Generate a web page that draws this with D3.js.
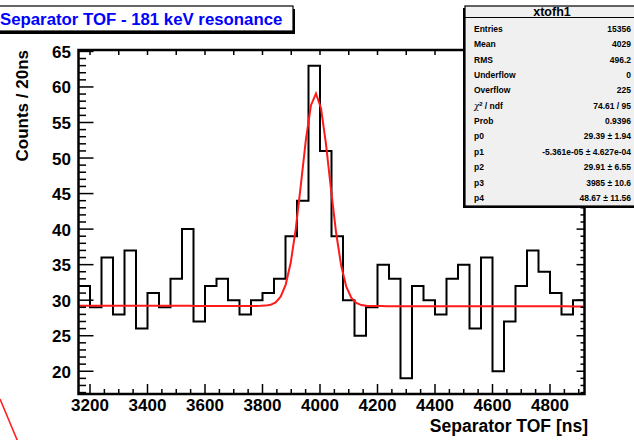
<!DOCTYPE html>
<html>
<head>
<meta charset="utf-8">
<script src="https://cdn.jsdelivr.net/npm/d3@7"></script>
<style>
  html, body { margin: 0; padding: 0; background: #fff; }
  svg { display: block; font-family: "Liberation Sans", Arial, Helvetica, sans-serif; }
</style>
</head>
<body>
<svg id="chart" width="634" height="440"></svg>
<script>
// ---- data ----
const binEdgesStart = 3160;      // first bin low edge (ns)
const binWidth = 40;             // ns
const binCounts = [32, 29, 36, 28, 37, 26, 31, 29, 33, 40, 27, 32, 33, 30, 28, 30, 31, 33, 39, 44, 63, 51,
                   39, 30, 25, 29, 35, 33, 19, 32, 30, 28, 33, 35, 26, 36, 20, 27, 32, 37, 34, 31, 28, 30];
const xDomain = [3160, 4920];
const yDomain = [16.8, 65.2];
const xTickLabels = [3200, 3400, 3600, 3800, 4000, 4200, 4400, 4600, 4800];
const yTickLabels = [20, 25, 30, 35, 40, 45, 50, 55, 60, 65];
const fitParams = [29.39, -5.361e-05, 29.91, 3985, 48.67];   // p0 + p1*x + p2*gaus(p3,p4)
const fitRange = [3162, 4915];
const statLabels = ["Entries", "Mean", "RMS", "Underflow", "Overflow", "CHI", "Prob", "p0", "p1", "p2", "p3", "p4"];
const statValues = ["15356", "4029", "496.2", "0", "225", "74.61 / 95", "0.9396",
                    "29.39 \u00b1 1.94", "-5.361e-05 \u00b1 4.627e-04", "29.91 \u00b1 6.55",
                    "3985 \u00b1 10.6", "48.67 \u00b1 11.56"];
const titleText = "Separator TOF - 181 keV resonance";
const statTitle = "xtofh1";
const xTitle = "Separator TOF [ns]";
const yTitle = "Counts / 20ns";

// ---- layout ----
const svg = d3.select("#chart");
const L = 78.5, R = 584.5, T = 50, B = 394;
const x = d3.scaleLinear().domain(xDomain).range([L, R]);
const y = d3.scaleLinear().domain(yDomain).range([B, T]);
const FONT = '"Liberation Sans", Arial, Helvetica, sans-serif';

// stray red line at bottom-left
svg.append("line").attr("x1", 0).attr("y1", 399).attr("x2", 18).attr("y2", 442)
  .attr("stroke", "#ff2020").attr("stroke-width", 1.6);

// histogram step path
const bins = binCounts.map((c, i) => ({x0: binEdgesStart + i * binWidth, x1: binEdgesStart + (i + 1) * binWidth, c}));
let p = d3.path();
bins.forEach((b, i) => {
  if (i === 0) p.moveTo(x(b.x0), y(b.c)); else p.lineTo(x(b.x0), y(b.c));
  p.lineTo(x(b.x1), y(b.c));
});
svg.append("path").attr("d", p.toString()).attr("fill", "none")
  .attr("stroke", "#000").attr("stroke-width", 2);

// fit curve
const f = v => fitParams[0] + fitParams[1] * v + fitParams[2] * Math.exp(-0.5 * Math.pow((v - fitParams[3]) / fitParams[4], 2));
const npx = 100;
const pts = d3.range(npx + 1).map(i => {
  const v = fitRange[0] + (fitRange[1] - fitRange[0]) * i / npx;
  return [x(v), y(f(v))];
});
svg.append("path").attr("d", d3.line()(pts)).attr("fill", "none")
  .attr("stroke", "#ff1a1a").attr("stroke-width", 2);

// ticks
const g = svg.append("g").attr("stroke", "#000").attr("stroke-width", 1.5);
// bottom: every 50 ns, major every 200
d3.range(3200, 4921, 50).forEach(v => {
  const len = (v % 200 === 0) ? 10 : 5;
  g.append("line").attr("x1", x(v)).attr("x2", x(v)).attr("y1", B).attr("y2", B - len);
});
// top: every 100 ns
d3.range(3200, 4921, 100).forEach(v => {
  g.append("line").attr("x1", x(v)).attr("x2", x(v)).attr("y1", T).attr("y2", T + 5);
});
// left & right: every 1, major every 5
d3.range(17, 66, 1).forEach(v => {
  const major = v % 5 === 0;
  g.append("line").attr("x1", L).attr("x2", L + (major ? 15 : 7.5)).attr("y1", y(v)).attr("y2", y(v));
  g.append("line").attr("x1", R).attr("x2", R - (major ? 8 : 4)).attr("y1", y(v)).attr("y2", y(v));
});

// frame
svg.append("rect").attr("x", L).attr("y", T).attr("width", R - L).attr("height", B - T)
  .attr("fill", "none").attr("stroke", "#000").attr("stroke-width", 2.5);

// tick labels
svg.append("g").selectAll("text").data(xTickLabels).join("text")
  .attr("x", d => x(d)).attr("y", 410.5).attr("text-anchor", "middle")
  .attr("font-size", 17).attr("font-weight", "bold").text(d => d);
svg.append("g").selectAll("text").data(yTickLabels).join("text")
  .attr("x", 71).attr("y", d => y(d) + 6.5).attr("text-anchor", "end")
  .attr("font-size", 17).attr("font-weight", "bold").text(d => d);

// axis titles
svg.append("text").attr("x", 588).attr("y", 432).attr("text-anchor", "end")
  .attr("font-size", 17.5).attr("font-weight", "bold").text(xTitle);
svg.append("text").attr("transform", "translate(28,50) rotate(-90)").attr("text-anchor", "end")
  .attr("font-size", 17).attr("font-weight", "bold").text(yTitle);

// title box
svg.append("rect").attr("x", -3).attr("y", 9).attr("width", 298).attr("height", 25).attr("fill", "#000");
svg.append("rect").attr("x", -3).attr("y", 6).attr("width", 296).attr("height", 25)
  .attr("fill", "#fff").attr("stroke", "#000").attr("stroke-width", 1.2);
svg.append("text").attr("x", 0).attr("y", 25).attr("fill", "#0000ff")
  .attr("font-size", 16.8).attr("font-weight", "bold").text(titleText);

// stats box
const SX = 465, SY = 6, SW = 180, SH = 200;
svg.append("rect").attr("x", SX - 2).attr("y", SY + 2).attr("width", SW).attr("height", SH).attr("fill", "#000");
svg.append("rect").attr("x", SX).attr("y", SY).attr("width", SW).attr("height", SH)
  .attr("fill", "#f0f0f0").attr("stroke", "#000").attr("stroke-width", 1.2);
svg.append("line").attr("x1", SX).attr("x2", SX + SW).attr("y1", 17.5).attr("y2", 17.5)
  .attr("stroke", "#000").attr("stroke-width", 1);
svg.append("text").attr("x", 552).attr("y", 16).attr("text-anchor", "middle")
  .attr("font-size", 12.5).attr("font-weight", "bold").text(statTitle);
const rowY = i => 29 + i * 15.35 + 3;
statLabels.forEach((lab, i) => {
  const t = svg.append("text").attr("x", 474).attr("y", rowY(i))
    .attr("font-size", 8.5).attr("font-weight", "bold");
  if (lab === "CHI") {
    t.append("tspan").attr("font-style", "italic").attr("font-weight", "normal").attr("font-family", "DejaVu Serif").text("\u03c7");
    t.append("tspan").attr("font-size", 6).attr("dy", -3).text("2");
    t.append("tspan").attr("dy", 3).text(" / ndf");
  } else t.text(lab);
});
statValues.forEach((val, i) => {
  svg.append("text").attr("x", 631).attr("y", rowY(i)).attr("text-anchor", "end")
    .attr("font-size", 8.5).attr("font-weight", "bold").text(val);
});
</script>
</body>
</html>
